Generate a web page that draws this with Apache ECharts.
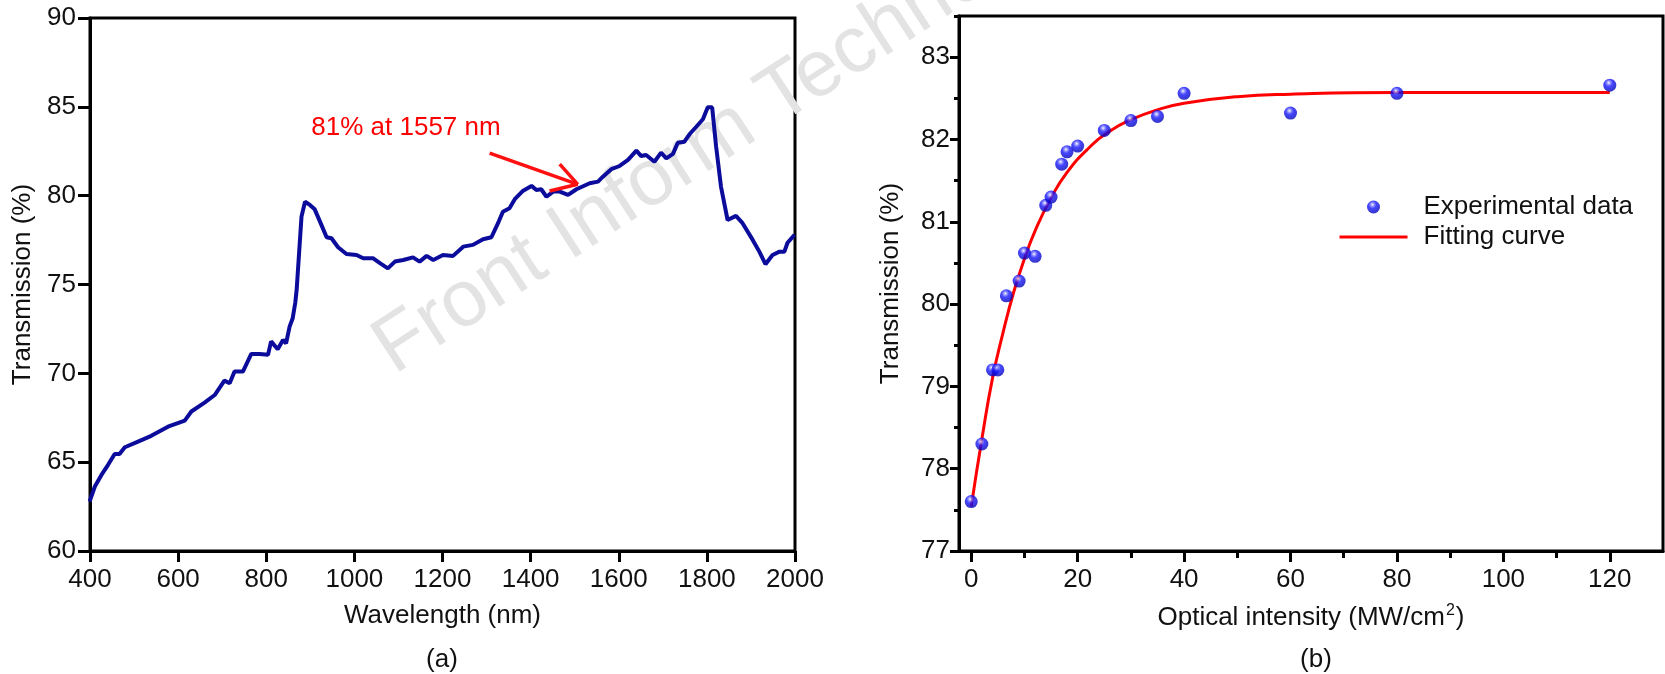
<!DOCTYPE html>
<html>
<head>
<meta charset="utf-8">
<script src="https://cdn.jsdelivr.net/npm/echarts@6/dist/echarts.min.js"></script>
<style>
html, body { margin: 0; padding: 0; background: #fff; }
#main { width: 1665px; height: 674px; }
</style>
</head>
<body>
<div id="main"></div>
<script>
// (a) transmission spectrum
var wavelength = [399, 411, 426, 441, 456, 467, 479, 509, 539, 577, 615, 630, 660, 683, 705, 717, 728, 747, 766, 785,
    804, 811, 826, 838, 845, 853, 860, 866, 869, 880, 888, 899, 910, 922, 937, 948, 963, 982, 1005, 1020,
    1042, 1058, 1076, 1092, 1111, 1133, 1148, 1164, 1179, 1201, 1224, 1247, 1269, 1292, 1311, 1326, 1337, 1352, 1364, 1383,
    1402, 1413, 1424, 1436, 1451, 1466, 1485, 1504, 1534, 1553, 1564, 1583, 1602, 1621, 1640, 1651, 1662, 1681, 1696, 1708,
    1723, 1734, 1749, 1761, 1776, 1791, 1802, 1812, 1821, 1832, 1847, 1866, 1881, 1904, 1919, 1933, 1949, 1965, 1976, 1983, 1999];
var transmission = [62.78, 63.63, 64.28, 64.85, 65.46, 65.46, 65.84, 66.16, 66.48, 67.00, 67.34, 67.85, 68.35, 68.78, 69.59, 69.44, 70.10, 70.10, 71.09, 71.09,
    71.04, 71.80, 71.36, 71.88, 71.69, 72.63, 73.10, 74.00, 74.70, 78.82, 79.66, 79.48, 79.23, 78.54, 77.66, 77.60, 77.10, 76.72, 76.66, 76.48,
    76.48, 76.20, 75.91, 76.29, 76.38, 76.53, 76.29, 76.61, 76.38, 76.66, 76.61, 77.13, 77.23, 77.55, 77.66, 78.45, 79.10, 79.29, 79.80, 80.28,
    80.55, 80.32, 80.36, 79.94, 80.23, 80.23, 80.04, 80.36, 80.70, 80.79, 81.07, 81.49, 81.67, 82.01, 82.53, 82.23, 82.29, 81.91, 82.42, 82.10,
    82.35, 82.98, 83.04, 83.47, 83.88, 84.30, 84.97, 84.97, 82.76, 80.51, 78.63, 78.86, 78.45, 77.51, 76.85, 76.14, 76.66, 76.85, 76.85, 77.35, 77.79];

// (b) transmission vs optical intensity
var intensity = [0, 2, 4, 5, 6.6, 9, 10, 12, 14, 15, 17, 18, 20, 25, 30, 35, 40, 60, 80, 120];
var measured = [77.6, 78.3, 79.2, 79.2, 80.1, 80.28, 80.62, 80.58, 81.2, 81.3, 81.7, 81.85, 81.92, 82.11, 82.23, 82.28, 82.56, 82.32, 82.56, 82.66];
var fitIntensity = [0, 2, 4, 6, 8, 10, 12, 15, 18, 22, 26, 30, 35, 40, 50, 60, 80, 100, 120];
var fitTransmission = [77.54, 78.36, 79.1, 79.66, 80.15, 80.55, 80.89, 81.29, 81.6, 81.89, 82.1, 82.24, 82.36, 82.44, 82.52, 82.55, 82.57, 82.57, 82.57];

var intensityTicks = [0, 20, 40, 60, 80, 100, 120];
var intensityMinor = [10, 30, 50, 70, 90, 110];
var transTicks = [77, 78, 79, 80, 81, 82, 83];
var transMinor = [77.5, 78.5, 79.5, 80.5, 81.5, 82.5, 83.5];

var font = 'Liberation Sans, Arial, sans-serif';
var ink = '#111';

var spectrum = wavelength.map(function (w, i) { return [w, transmission[i]]; });
var points = intensity.map(function (x, i) { return [x, measured[i]]; });
var fitted = fitIntensity.map(function (x, i) { return [x, fitTransmission[i]]; });

var chart = echarts.init(document.getElementById('main'));

var option = {
    animation: false,
    backgroundColor: '#fff',
    textStyle: { fontFamily: font },
    grid: [
        { left: 90, top: 18, width: 705, height: 533, show: true, borderColor: '#000', borderWidth: 3 },
        { left: 959, top: 16, width: 704, height: 535, show: true, borderColor: '#000', borderWidth: 3 }
    ],
    legend: {
        orient: 'vertical',
        left: 1333,
        top: 187,
        itemWidth: 68,
        itemHeight: 13,
        itemGap: 0,
        selectedMode: false,
        textStyle: { fontSize: 26, color: ink, lineHeight: 30, padding: [0, 0, 0, 11], fontFamily: font },
        data: [
            { name: 'Experimental data' },
            { name: 'Fitting curve', itemStyle: { opacity: 0 }, lineStyle: { width: 3, color: '#ff0000' } }
        ]
    },
    xAxis: [
        {
            type: 'value', gridIndex: 0, min: 400, max: 2000, interval: 200,
            name: 'Wavelength (nm)', nameLocation: 'middle', nameGap: 52,
            nameTextStyle: { fontSize: 26, color: ink },
            axisLine: { onZero: false, lineStyle: { color: '#000', width: 3 } },
            axisTick: { length: 11, lineStyle: { width: 3, color: '#000' } },
            axisLabel: { fontSize: 26, color: ink, margin: 16, formatter: function (v) { return String(v); } },
            splitLine: { show: false }
        },
        {
            type: 'value', gridIndex: 1, min: -2.3, max: 130, position: 'bottom',
            name: 'Optical intensity (MW/cm{sup|2})', nameLocation: 'middle', nameGap: 52,
            nameTextStyle: { fontSize: 26, color: ink, rich: { sup: { fontSize: 16, color: ink, verticalAlign: 'top', padding: [0, 1, 14, 1] } } },
            axisLine: { onZero: false, lineStyle: { color: '#000', width: 3 } },
            axisTick: { length: 11, customValues: intensityTicks, lineStyle: { width: 3, color: '#000' } },
            axisLabel: { fontSize: 26, color: ink, margin: 16, customValues: intensityTicks },
            splitLine: { show: false }
        },
        {
            type: 'value', gridIndex: 1, min: -2.3, max: 130, position: 'bottom', offset: 0,
            axisLine: { show: false, onZero: false },
            axisTick: { length: 7, customValues: intensityMinor, lineStyle: { width: 3, color: '#000' } },
            axisLabel: { show: false },
            splitLine: { show: false }
        }
    ],
    yAxis: [
        {
            type: 'value', gridIndex: 0, min: 60, max: 90, interval: 5,
            name: 'Transmission (%)', nameLocation: 'middle', nameGap: 54,
            nameTextStyle: { fontSize: 26, color: ink },
            axisLine: { onZero: false, lineStyle: { color: '#000', width: 3 } },
            axisTick: { length: 12, lineStyle: { width: 3, color: '#000' } },
            axisLabel: { fontSize: 26, color: ink, margin: 14 },
            splitLine: { show: false }
        },
        {
            type: 'value', gridIndex: 1, min: 77, max: 83.5, position: 'left',
            name: 'Transmission (%)', nameLocation: 'middle', nameGap: 55,
            nameTextStyle: { fontSize: 26, color: ink },
            axisLine: { onZero: false, lineStyle: { color: '#000', width: 3 } },
            axisTick: { length: 9, customValues: transTicks, lineStyle: { width: 3, color: '#000' } },
            axisLabel: { fontSize: 26, color: ink, margin: 9, customValues: transTicks },
            splitLine: { show: false }
        },
        {
            type: 'value', gridIndex: 1, min: 77, max: 83.5, position: 'left', offset: 0,
            axisLine: { show: false, onZero: false },
            axisTick: { length: 5, customValues: transMinor, lineStyle: { width: 3, color: '#000' } },
            axisLabel: { show: false },
            splitLine: { show: false }
        }
    ],
    graphic: [
        {
            type: 'text', x: 404, y: 390, rotation: 33 * Math.PI / 180, z: 0, silent: true,
            style: { text: 'Front Inform Technol', fill: '#e3e3e3', font: '80px ' + font, textAlign: 'left', textVerticalAlign: 'bottom' }
        },
        {
            type: 'text', x: 406, y: 128, z: 10,
            style: { text: '81% at 1557 nm', fill: '#ff0000', font: '26px ' + font, textAlign: 'center', textVerticalAlign: 'middle' }
        },
        {
            type: 'text', x: 442, y: 660, z: 10,
            style: { text: '(a)', fill: ink, font: '26px ' + font, textAlign: 'center', textVerticalAlign: 'middle' }
        },
        {
            type: 'text', x: 1316, y: 660, z: 10,
            style: { text: '(b)', fill: ink, font: '26px ' + font, textAlign: 'center', textVerticalAlign: 'middle' }
        }
    ],
    series: [
        {
            name: 'Transmission',
            type: 'line',
            xAxisIndex: 0, yAxisIndex: 0,
            showSymbol: false,
            symbol: 'none',
            z: 3,
            lineStyle: { color: '#0c0c9c', width: 4 },
            data: spectrum,
            markLine: {
                silent: true,
                symbol: ['none', 'none'],
                label: { show: false },
                lineStyle: { color: '#ff1010', width: 3.5, type: 'solid' },
                data: [
                    [{ coord: [1307, 82.39] }, { coord: [1507, 80.64] }],
                    [{ coord: [1466, 81.78] }, { coord: [1507, 80.64] }],
                    [{ coord: [1443, 80.26] }, { coord: [1507, 80.64] }]
                ]
            }
        },
        {
            name: 'Fitting curve',
            type: 'line',
            xAxisIndex: 1, yAxisIndex: 1,
            smooth: true,
            showSymbol: false,
            symbol: 'none',
            z: 3,
            itemStyle: { color: '#ff0000' },
            lineStyle: { color: '#ff0000', width: 3 },
            data: fitted
        },
        {
            name: 'Experimental data',
            type: 'scatter',
            xAxisIndex: 1, yAxisIndex: 1,
            symbolSize: 13,
            z: 4,
            itemStyle: {
                color: {
                    type: 'radial', x: 0.42, y: 0.32, r: 0.72,
                    colorStops: [
                        { offset: 0, color: '#ffffff' },
                        { offset: 0.15, color: '#9090ff' },
                        { offset: 0.4, color: '#1818ff' },
                        { offset: 1, color: '#0000b0' }
                    ]
                }
            },
            data: points
        }
    ]
};

chart.setOption(option);
</script>
</body>
</html>
